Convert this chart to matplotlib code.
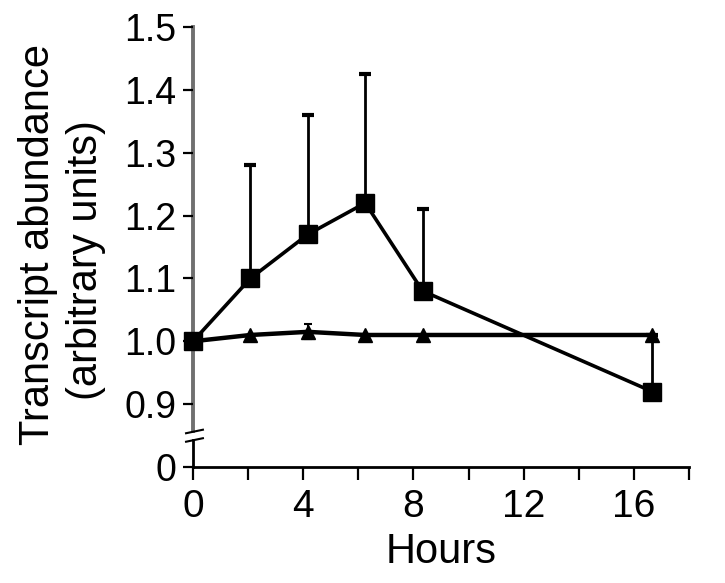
import numpy as np
import matplotlib
matplotlib.use("Agg")
import matplotlib.pyplot as plt
from matplotlib.lines import Line2D

plt.rcParams['font.family'] = ['Liberation Sans', 'DejaVu Sans']

# ---- data ----
hours = [0, 2, 4, 6, 8, 16]
square_vals = [1.00, 1.10, 1.17, 1.22, 1.08, 0.92]
square_err_up = [0.0, 0.18, 0.19, 0.205, 0.13, 0.09]
tri_vals = [1.00, 1.01, 1.015, 1.01, 1.01, 1.01]
tri_err = [0.0, 0.0, 0.012, 0.0, 0.0, 0.0]

ytick_vals = [0, 0.9, 1.0, 1.1, 1.2, 1.3, 1.4, 1.5]
ytick_labels = ["0", "0.9", "1.0", "1.1", "1.2", "1.3", "1.4", "1.5"]
xtick_major = [0, 4, 8, 12, 16]
xtick_minor = [2, 6, 10, 14, 18]
TICK_SCALE = 0.96   # tick spacing in original is slightly narrower than data spacing
ylabel_lines = ["Transcript abundance", "(arbitrary units)"]
xlabel = "Hours"


def fwd(y):
    y = np.asarray(y, float)
    return np.where(y >= 0.9, y, 0.8 + y / 9.0)


def inv(u):
    u = np.asarray(u, float)
    return np.where(u >= 0.9, u, (u - 0.8) * 9.0)


fig = plt.figure(figsize=(7.25, 5.83), dpi=100)
ax = fig.add_axes([0.2662, 0.199, 0.6841, 0.7547])
ax.set_yscale('function', functions=(fwd, inv))

# square series with upper error bars
ax.errorbar(hours, square_vals, yerr=[np.zeros(len(hours)), square_err_up],
            fmt='none', ecolor='black', elinewidth=2, capsize=4.5, capthick=3,
            clip_on=False, zorder=2)
ax.plot(hours, square_vals, color='black', lw=2.6, marker='s', markersize=13,
        clip_on=False, zorder=3)

# triangle series
ax.errorbar(hours, tri_vals, yerr=tri_err, fmt='none', ecolor='black',
            elinewidth=1.5, capsize=3, capthick=1.5, clip_on=False, zorder=4)
ax.plot(hours, tri_vals, color='black', lw=3.2, marker='^', markersize=10,
        clip_on=False, zorder=5)

ax.set_xlim(0, 17.25)
ax.set_ylim(0, 1.5)

ax.set_yticks(ytick_vals)
ax.set_yticklabels(ytick_labels)
ax.yaxis.set_minor_locator(matplotlib.ticker.NullLocator())
ax.set_xticks(np.array(xtick_major) * TICK_SCALE)
ax.set_xticklabels([str(h) for h in xtick_major])
ax.set_xticks(np.array(xtick_minor) * TICK_SCALE, minor=True)

ax.tick_params(axis='y', direction='out', length=7, width=1.6, labelsize=27, pad=5)
ax.tick_params(axis='x', which='both', direction='out', length=9, width=1.6,
               labelsize=28, pad=7)

for s in ['top', 'right']:
    ax.spines[s].set_visible(False)
ax.spines['left'].set_color('none')
ax.spines['bottom'].set_linewidth(2)

# broken left axis line
ax.add_line(Line2D([0, 0], [0.081, 1.0], transform=ax.transAxes, color='#707070',
                   lw=2.8, clip_on=False, zorder=1))
ax.add_line(Line2D([0, 0], [0.0, 0.061], transform=ax.transAxes, color='black',
                   lw=2, clip_on=False, zorder=1))
for yc in (0.0807, 0.0614):
    ax.add_line(Line2D([-0.014, 0.020], [yc - 0.004, yc + 0.004],
                       transform=ax.transAxes, color='black', lw=1.5,
                       clip_on=False))

ax.set_xlabel(xlabel, fontsize=30, labelpad=5)
fig.text(0.052, 0.5798, ylabel_lines[0], rotation=90, fontsize=30,
         ha='center', va='center')
fig.text(0.1186, 0.554, ylabel_lines[1], rotation=90, fontsize=30,
         ha='center', va='center')

fig.savefig('out.png', dpi=100)
